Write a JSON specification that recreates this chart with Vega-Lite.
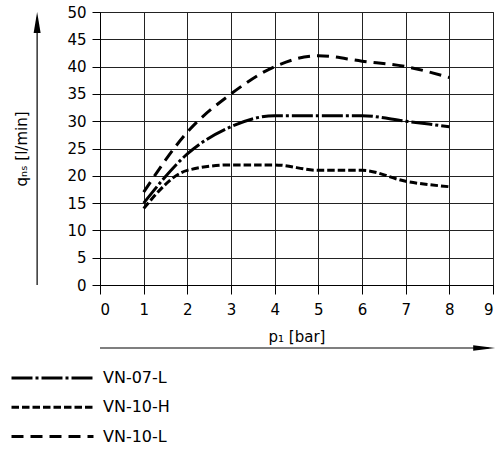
{
  "$schema": "https://vega.github.io/schema/vega-lite/v6.json",
  "autosize": {"type": "none"},
  "width": 393,
  "height": 273,
  "padding": {"left": 100, "top": 12, "right": 7, "bottom": 168},
  "background": "white",
  "config": {
    "font": "DejaVu Sans",
    "view": {"stroke": "#222", "strokeWidth": 1},
    "axis": {
      "gridColor": "#222", "gridOpacity": 1, "gridWidth": 1,
      "domainColor": "#000", "domainWidth": 1,
      "tickColor": "#000", "tickWidth": 1,
      "labelFont": "DejaVu Sans", "labelFontSize": 15, "labelColor": "#000", "labelOverlap": false,
      "titleFont": "DejaVu Sans", "titleFontSize": 15, "titleFontWeight": "normal", "titleColor": "#000"
    }
  },
  "datasets": {
    "curves": [
      {"p": 1, "q": 15, "series": "VN-07-L"},
      {"p": 2, "q": 24, "series": "VN-07-L"},
      {"p": 3, "q": 29, "series": "VN-07-L"},
      {"p": 4, "q": 31, "series": "VN-07-L"},
      {"p": 5, "q": 31, "series": "VN-07-L"},
      {"p": 6, "q": 31, "series": "VN-07-L"},
      {"p": 7, "q": 30, "series": "VN-07-L"},
      {"p": 8, "q": 29, "series": "VN-07-L"},
      {"p": 1, "q": 14, "series": "VN-10-H"},
      {"p": 2, "q": 21, "series": "VN-10-H"},
      {"p": 3, "q": 22, "series": "VN-10-H"},
      {"p": 4, "q": 22, "series": "VN-10-H"},
      {"p": 5, "q": 21, "series": "VN-10-H"},
      {"p": 6, "q": 21, "series": "VN-10-H"},
      {"p": 7, "q": 19, "series": "VN-10-H"},
      {"p": 8, "q": 18, "series": "VN-10-H"},
      {"p": 1, "q": 17, "series": "VN-10-L"},
      {"p": 2, "q": 28, "series": "VN-10-L"},
      {"p": 3, "q": 35, "series": "VN-10-L"},
      {"p": 4, "q": 40, "series": "VN-10-L"},
      {"p": 5, "q": 42, "series": "VN-10-L"},
      {"p": 6, "q": 41, "series": "VN-10-L"},
      {"p": 7, "q": 40, "series": "VN-10-L"},
      {"p": 8, "q": 38, "series": "VN-10-L"}
    ],
    "yarrow": [{"p": -1.44, "q": 0, "q2": 49}],
    "yhead": [{"p": -1.44, "q": 50}],
    "xarrow": [{"p": 0, "p2": 8.9, "q": -11.54}],
    "xhead": [{"p": 9.05, "q": -11.54}]
  },
  "encoding": {
    "x": {
      "field": "p", "type": "quantitative",
      "scale": {"domain": [0, 9], "nice": false, "zero": false},
      "axis": {
        "values": [0, 1, 2, 3, 4, 5, 6, 7, 8, 9],
        "grid": true, "tickSize": 9, "labelPadding": 8,
        "title": "p₁ [bar]", "titlePadding": 12
      }
    },
    "y": {
      "field": "q", "type": "quantitative",
      "scale": {"domain": [0, 50], "nice": false, "zero": false},
      "axis": {
        "values": [0, 5, 10, 15, 20, 25, 30, 35, 40, 45, 50],
        "grid": true, "tickSize": 8, "labelPadding": 6,
        "title": "qₙₛ [l/min]", "titlePadding": 37
      }
    }
  },
  "layer": [
    {
      "data": {"name": "curves"},
      "mark": {"type": "line", "color": "#000", "strokeWidth": 3, "interpolate": "monotone"},
      "encoding": {
        "strokeDash": {
          "field": "series", "type": "nominal",
          "scale": {"domain": ["VN-07-L", "VN-10-H", "VN-10-L"], "range": [[21, 3, 3, 3], [7.5, 3], [12, 7]]},
          "legend": {
            "title": null, "orient": "none", "legendX": -90, "legendY": 358,
            "symbolType": "stroke", "symbolSize": 6724, "symbolStrokeWidth": 3,
            "symbolStrokeColor": "#000", "labelFontSize": 16, "labelColor": "#000",
            "labelFont": "DejaVu Sans", "labelOffset": 8, "rowPadding": 13.3, "clipHeight": 16, "padding": 0
          }
        }
      }
    },
    {
      "data": {"name": "yarrow"},
      "mark": {"type": "rule", "color": "#000", "strokeWidth": 1.2},
      "encoding": {
        "y2": {"field": "q2"}
      }
    },
    {
      "data": {"name": "xarrow"},
      "mark": {"type": "rule", "color": "#000", "strokeWidth": 1.2},
      "encoding": {
        "x2": {"field": "p2"}
      }
    },
    {
      "data": {"name": "yhead"},
      "mark": {"type": "point", "shape": "M0,0L0.35,2.1L-0.35,2.1Z", "size": 400, "filled": true, "color": "#000", "opacity": 1}
    },
    {
      "data": {"name": "xhead"},
      "mark": {"type": "point", "shape": "M0,0L-2.2,-0.28L-2.2,0.28Z", "size": 400, "filled": true, "color": "#000", "opacity": 1}
    }
  ]
}
